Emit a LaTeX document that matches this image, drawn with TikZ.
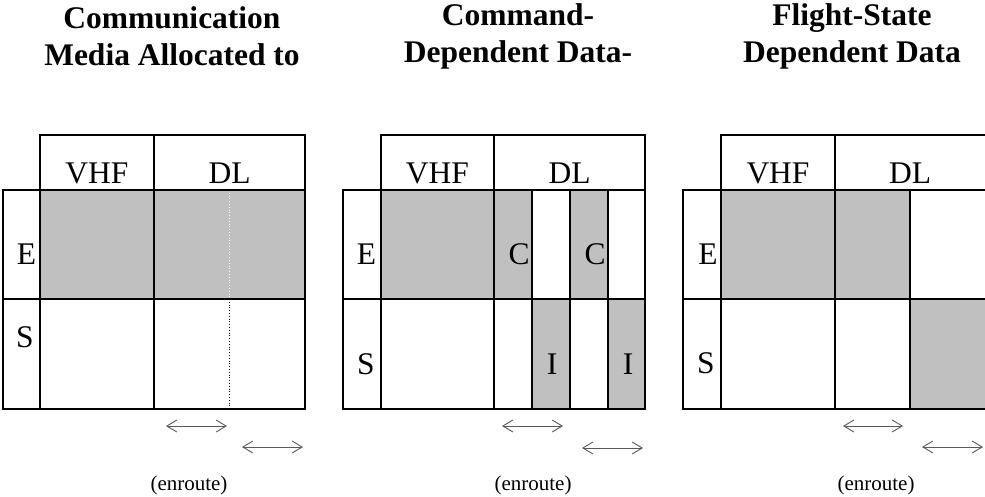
\documentclass[tikz,border=0pt]{standalone}
\usepackage{fontspec}
\setmainfont{Liberation Serif}
\usepackage{xcolor}
\usetikzlibrary{arrows.meta,positioning}
\definecolor{cellgray}{HTML}{C0C0C0}

\begin{document}
\begin{tikzpicture}[x=1pt, y=-1pt, grid/.style={line width=2.5pt}, shade/.style={fill=cellgray}, lbl/.style={inner sep=0pt, font=\fontsize{31.5}{37}\selectfont}, ttl/.style={inner sep=0pt, align=center, font=\fontsize{31.5}{37}\selectfont\bfseries}, note/.style={inner sep=0pt, font=\fontsize{21}{25}\selectfont}, spanarr/.style={{Straight Barb[length=10pt,width=12pt]}-{Straight Barb[length=10pt,width=12pt]}, line width=0.9pt, draw=black!65}]
\clip (0,0) rectangle (985,497);
% panel 1: media allocated
\node[ttl] (t1) at (172,36) {Communication\\Media Allocated to};
\fill[shade] (40,190) rectangle (305,299);
\draw[white, dotted, line width=0.8pt] (229,190) -- (229,299);
\draw[dotted, line width=0.8pt] (229,299) -- (229,409);
\draw[grid] (40,135) rectangle (305,409);
\draw[grid] (3,190) rectangle (40,409);
\draw[grid] (40,190) -- (305,190) (3,299) -- (305,299) (154,135) -- (154,409);
\node[lbl] (vhf1) at (97,173) {VHF};
\node[lbl] (dl1) at (229.5,173) {DL};
\node[lbl] (e1) at (26.5,254) {E};
\node[lbl] (s1) at (25,337) {S};
\coordinate (a1l) at (166,426);
\coordinate (a1r) at (227,426);
\coordinate (b1l) at (242,447);
\coordinate (b1r) at (303,447);
\draw[spanarr] (a1l) -- (a1r);
\draw[spanarr] (b1l) -- (b1r);
\node[note] (en1) at (189,485) {(enroute)};
% panel 2: command dependent
\node[ttl] (t2) at (518,36) {Command-\\Dependent Data-};
\fill[shade] (381,190) rectangle (532,299) (570,190) rectangle (608,299);
\fill[shade] (532,299) rectangle (570,409) (608,299) rectangle (645,409);
\draw[grid] (381,135) rectangle (645,409);
\draw[grid] (343,190) rectangle (381,409);
\draw[grid] (381,190) -- (645,190) (343,299) -- (645,299) (494,135) -- (494,409);
\draw[grid] (532,190) -- (532,409) (570,190) -- (570,409) (608,190) -- (608,409);
\node[lbl] (vhf2) at (437.5,173) {VHF};
\node[lbl] (dl2) at (569.5,173) {DL};
\node[lbl] (e2) at (366.5,254) {E};
\node[lbl] (s2) at (366,364) {S};
\node[lbl] (c2a) at (519,254) {C};
\node[lbl] (c2b) at (595,254) {C};
\node[lbl] (i2a) at (552,364) {I};
\node[lbl] (i2b) at (628,364) {I};
\coordinate (a2l) at (502,426);
\coordinate (a2r) at (563,426);
\coordinate (b2l) at (582,448);
\coordinate (b2r) at (643,448);
\draw[spanarr] (a2l) -- (a2r);
\draw[spanarr] (b2l) -- (b2r);
\node[note] (en2) at (533,485) {(enroute)};
% panel 3: flight-state dependent
\node[ttl] (t3) at (852,36) {Flight-State\\Dependent Data};
\fill[shade] (721,190) rectangle (910,299) (910,299) rectangle (990,409);
\draw[grid] (990,135) -- (721,135) -- (721,409) -- (990,409);
\draw[grid] (683,190) rectangle (721,409);
\draw[grid] (683,190) -- (990,190) (683,299) -- (990,299) (835,135) -- (835,409) (910,190) -- (910,409);
\node[lbl] (vhf3) at (778,173) {VHF};
\node[lbl] (dl3) at (910,173) {DL};
\node[lbl] (e3) at (708,254) {E};
\node[lbl] (s3) at (706,363) {S};
\coordinate (a3l) at (843,426);
\coordinate (a3r) at (903,426);
\coordinate (b3l) at (922,447);
\coordinate (b3r) at (983,447);
\draw[spanarr] (a3l) -- (a3r);
\draw[spanarr] (b3l) -- (b3r);
\node[note] (en3) at (876,485) {(enroute)};
\end{tikzpicture}
\end{document}
